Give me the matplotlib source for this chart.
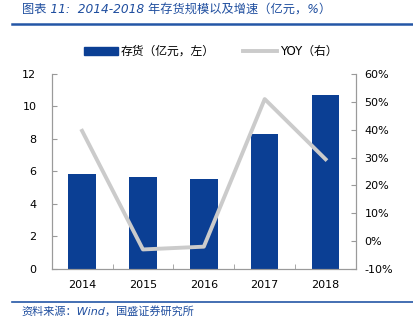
import matplotlib
matplotlib.use('Agg')
import matplotlib.pyplot as plt
from matplotlib.patches import Patch
from matplotlib.lines import Line2D
from matplotlib.ticker import FuncFormatter
import numpy as np

plt.rcParams['font.family'] = ['DejaVu Sans', 'Noto Sans CJK SC']

years = ['2014', '2015', '2016', '2017', '2018']
stock = [5.82, 5.65, 5.53, 8.28, 10.68]      # 存货（亿元）
yoy = [39.6, -3.0, -2.0, 51.0, 29.4]         # YOY（%）

bar_color = '#0B3F94'
line_color = '#CBCBCB'
blue_txt = '#1F4E9F'
spine_color = '#9A9A9A'

fig = plt.figure(figsize=(4.13, 3.26), dpi=100)
ax = fig.add_axes([0.125, 0.175, 0.737, 0.598])
x = np.arange(len(years))

ax.bar(x, stock, width=0.45, color=bar_color, zorder=2)
ax.set_xlim(-0.5, len(years) - 0.5)
ax.set_ylim(0, 12)
ax.set_yticks(np.arange(0, 13, 2))
ax.set_xticks(x)
ax.set_xticklabels(years)
ax.set_xticks(np.arange(0.5, len(years) - 0.5, 1), minor=True)
ax.tick_params(axis='x', which='major', length=0, pad=8, labelsize=8)
ax.tick_params(axis='x', which='minor', direction='in', length=3.5, color=spine_color)
ax.tick_params(axis='y', direction='in', length=3.5, color=spine_color, labelsize=8, pad=11)

ax2 = ax.twinx()
ax2.plot(x, yoy, color=line_color, lw=2.8, zorder=3)
ax2.set_ylim(-10, 60)
ax2.set_yticks(np.arange(-10, 61, 10))
ax2.yaxis.set_major_formatter(FuncFormatter(lambda v, p: '%d%%' % v))
ax2.tick_params(axis='y', direction='in', length=3.5, color=spine_color, labelsize=8, pad=6)

for a in (ax, ax2):
    a.spines['top'].set_visible(False)
    for s in ('left', 'right', 'bottom'):
        a.spines[s].set_color(spine_color)
        a.spines[s].set_linewidth(0.8)

handles = [Patch(facecolor=bar_color, edgecolor=bar_color),
           Line2D([0], [0], color=line_color, lw=2.8)]
labels = ['存货（亿元，左）', 'YOY（右）']
fig.legend(handles, labels, loc='center', bbox_to_anchor=(0.51, 0.842), ncol=2,
           frameon=False, fontsize=8.5, handlelength=2.9, handletextpad=0.25,
           columnspacing=2.4)

# title and source
fig.text(0.053, 0.968, '图表 11:  2014-2018 年存货规模以及增速（亿元，%）',
         fontsize=8.8, color=blue_txt, style='italic',
         va='center', ha='left')
fig.add_artist(Line2D([0.03, 1.0], [0.926, 0.926], color='#2456A6', lw=1.8,
                      transform=fig.transFigure))
fig.add_artist(Line2D([0.03, 1.0], [0.074, 0.074], color='#2456A6', lw=1.2,
                      transform=fig.transFigure))
fig.text(0.053, 0.044, '资料来源：Wind，国盛证券研究所', fontsize=8,
         color=blue_txt, style='italic', va='center', ha='left')

fig.savefig('out.png', dpi=100)
